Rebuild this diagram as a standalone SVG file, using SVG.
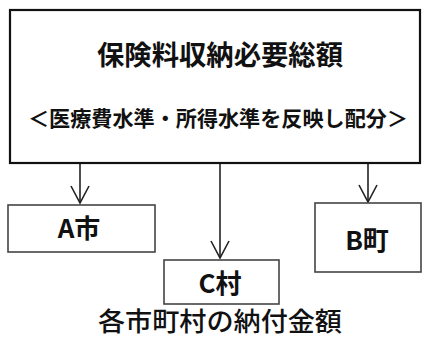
<svg xmlns="http://www.w3.org/2000/svg" width="423" height="338" viewBox="0 0 423 338">
  <defs>
    <style>
      .main { fill: #fff; stroke: #111; stroke-width: 2.2; }
      .box { fill: #fff; stroke: #444; stroke-width: 1.6; }
      .conn { fill: none; stroke: #222; stroke-width: 1.6; }
      .t { font-family: "Noto Sans CJK JP", "Liberation Sans", sans-serif; fill: #111; text-anchor: middle; }
      .title { font-size: 27px; font-weight: 700; }
      .sub { font-size: 21px; font-weight: 700; }
      .lbl { font-size: 26px; font-weight: 700; }
      .foot { font-size: 26px; font-weight: 500; }
    </style>
    <marker id="v" markerUnits="userSpaceOnUse" markerWidth="20" markerHeight="20" viewBox="-17 -10 20 20" refX="0" refY="0" orient="auto" overflow="visible">
      <path d="M-17,-9 L0,0 L-17,9" fill="none" stroke="#222" stroke-width="1.6"/>
    </marker>
  </defs>
  <rect width="423" height="338" fill="#fff"/>

  <g id="main">
    <rect class="main" x="10" y="10" width="410" height="153"/>
    <text class="t title" x="220" y="65" textLength="246" lengthAdjust="spacingAndGlyphs">保険料収納必要総額</text>
    <text class="t sub" x="218" y="126" textLength="380" lengthAdjust="spacingAndGlyphs">＜医療費水準・所得水準を反映し配分＞</text>
  </g>

  <g id="connectors">
    <line class="conn" x1="80" y1="164" x2="80" y2="203" marker-end="url(#v)"/>
    <line class="conn" x1="220" y1="164" x2="220" y2="258" marker-end="url(#v)"/>
    <line class="conn" x1="368" y1="164" x2="368" y2="202" marker-end="url(#v)"/>
  </g>

  <g id="nodeA">
    <rect class="box" x="8" y="205" width="147" height="47"/>
    <text class="t lbl" x="79" y="238">A市</text>
  </g>
  <g id="nodeC">
    <rect class="box" x="164" y="260" width="115" height="44"/>
    <text class="t lbl" x="220" y="293">C村</text>
  </g>
  <g id="nodeB">
    <rect class="box" x="315" y="203" width="106" height="69"/>
    <text class="t lbl" x="367" y="250">B町</text>
  </g>

  <g id="caption">
    <text class="t foot" x="220" y="331" textLength="244" lengthAdjust="spacingAndGlyphs">各市町村の納付金額</text>
  </g>
</svg>
